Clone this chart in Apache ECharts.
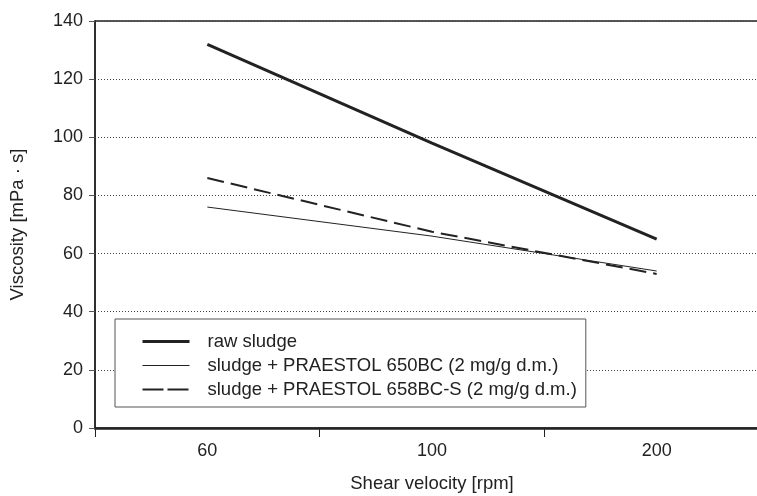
<!DOCTYPE html>
<html><head><meta charset="utf-8">
<script src="https://cdn.jsdelivr.net/npm/echarts@6/dist/echarts.min.js"></script>
<style>html,body{margin:0;padding:0;background:#fff}#c{width:757px;height:496px}</style>
</head><body><div id="c"></div>
<script>
const categories = ['60', '100', '200'];
const rawSludge = [132, 98, 65];
const praestol650 = [76, 66, 54];
const praestol658 = [86, 67.5, 53];
const yTicks = [0, 20, 40, 60, 80, 100, 120, 140];
const seriesNames = ['raw sludge', 'sludge + PRAESTOL 650BC (2 mg/g d.m.)', 'sludge + PRAESTOL 658BC-S (2 mg/g d.m.)'];

const FONT = 'Liberation Sans';
const chart = echarts.init(document.getElementById('c'), null, {renderer: 'canvas'});
chart.setOption({
  animation: false,
  backgroundColor: '#fff',
  grid: {left: 95, top: 21, width: 674, height: 407, outerBoundsMode: 'none', containLabel: false,
         show: true, borderColor: '#222', borderWidth: 1.5, backgroundColor: 'transparent'},
  legend: {
    orient: 'vertical', left: 115, top: 319,
    backgroundColor: '#fff',
    borderColor: '#555', borderWidth: 1,
    padding: [13, 9, 8, 26],
    itemGap: 5, itemWidth: 47, itemHeight: 18,
    itemStyle: {opacity: 0},
    textStyle: {fontFamily: FONT, fontSize: 18.5, color: '#222', padding: [0, 0, 0, 13]},
    data: [
      {name: seriesNames[0], lineStyle: {color: '#222', width: 3}},
      {name: seriesNames[1], lineStyle: {color: '#222', width: 1}},
      {name: seriesNames[2], lineStyle: {color: '#222', width: 2, type: [21, 4]}}
    ]
  },
  xAxis: {
    type: 'category', data: categories, boundaryGap: true,
    name: 'Shear velocity [rpm]', nameLocation: 'middle', nameGap: 46,
    nameTextStyle: {fontFamily: FONT, fontSize: 18.5, color: '#222'},
    axisLine: {lineStyle: {color: '#222', width: 2.5}},
    axisTick: {show: true, length: 9, inside: false, lineStyle: {color: '#222', width: 1}},
    axisLabel: {fontFamily: FONT, fontSize: 18, color: '#222', margin: 14},
    splitLine: {show: false}
  },
  yAxis: {
    type: 'value', min: 0, max: 140, interval: 20,
    name: 'Viscosity [mPa · s]', nameLocation: 'middle', nameGap: 68,
    nameTextStyle: {fontFamily: FONT, fontSize: 18.5, color: '#222'},
    axisLine: {show: true, lineStyle: {color: '#222', width: 1.5}},
    axisTick: {show: true, length: 6, lineStyle: {color: '#555', width: 1}},
    axisLabel: {fontFamily: FONT, fontSize: 18, color: '#222', margin: 12,
      formatter: v => yTicks.includes(v) ? String(v) : ''},
    splitLine: {show: true, lineStyle: {color: '#444', width: 1, type: [1, 2]}}
  },
  series: [
    {name: seriesNames[0], type: 'line', data: rawSludge, symbol: 'none',
     lineStyle: {color: '#222', width: 3}, itemStyle: {color: '#222'}},
    {name: seriesNames[1], type: 'line', data: praestol650, symbol: 'none',
     lineStyle: {color: '#222', width: 1}, itemStyle: {color: '#222'}},
    {name: seriesNames[2], type: 'line', data: praestol658, symbol: 'none',
     lineStyle: {color: '#222', width: 2, type: [17, 7]}, itemStyle: {color: '#222'}}
  ]
});
</script></body></html>
